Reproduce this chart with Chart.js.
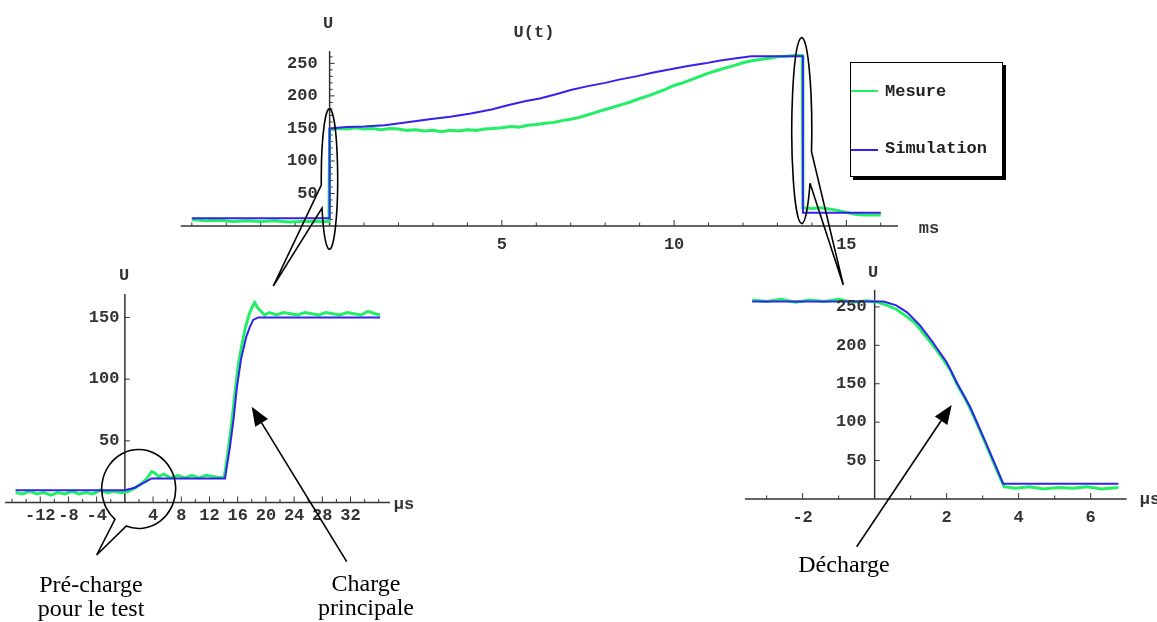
<!DOCTYPE html>
<html><head><meta charset="utf-8">
<script src="https://cdn.jsdelivr.net/npm/chart.js@4.4.1/dist/chart.umd.min.js"></script>
<style>
html,body{margin:0;padding:0;background:#fff;width:1157px;height:622px;overflow:hidden;position:relative;}
.cv{position:absolute;left:0;top:0;}
.mono{position:absolute;font-family:"Liberation Mono","DejaVu Sans Mono",monospace;font-size:17px;font-weight:bold;line-height:17px;color:#333;white-space:nowrap;transform:translate(-50%,-50%);}
.serif{position:absolute;font-family:"Liberation Serif","Times New Roman",serif;font-size:24px;line-height:24px;color:#000;text-align:center;white-space:nowrap;transform:translateX(-50%);}
#legend{position:absolute;left:850px;top:62px;width:151px;height:113px;border:1.5px solid #000;box-shadow:3px 3px 0 #000;background:#fff;}
.lline{position:absolute;left:0;width:27px;height:2px;}
.ltext{position:absolute;left:34px;font-family:"Liberation Mono","DejaVu Sans Mono",monospace;font-size:17px;font-weight:bold;line-height:17px;color:#222;}
svg{position:absolute;left:0;top:0;}
</style></head><body>
<canvas id="c1" class="cv" width="1157" height="622"></canvas>
<canvas id="c2" class="cv" width="1157" height="622"></canvas>
<canvas id="c3" class="cv" width="1157" height="622"></canvas>

<div class="mono" style="left:328px;top:23px">U</div>
<div class="mono" style="left:534px;top:32px">U(t)</div>
<div class="mono" style="left:929px;top:228px">ms</div>
<div class="mono" style="left:124px;top:275px">U</div>
<div class="mono" style="left:404px;top:504px">µs</div>
<div class="mono" style="left:873px;top:272px">U</div>
<div class="mono" style="left:1150px;top:499px">µs</div>

<div id="legend">
  <div class="lline" style="top:27px;background:#22ee66"></div>
  <div class="ltext" style="top:20px">Mesure</div>
  <div class="lline" style="top:86px;background:#3322ee"></div>
  <div class="ltext" style="top:77px">Simulation</div>
</div>

<svg width="1157" height="622" id="ann">
  <g fill="none" stroke="#000" stroke-width="1.6">
    <path d="M322,208 A8.2,70.3 0 1 0 321.3,185 L273.3,286 Z"/>
    <path d="M810,183.3 A10,93 0 1 1 811.5,151.7 L843.3,285 Z"/>
    <path d="M126.1,526.1 A37,39.5 0 1 0 115,519.3 L96.7,555 Z"/>
  </g>
</svg>

<div class="serif" style="left:91px;top:572px">Pré-charge<br>pour le test</div>
<div class="serif" style="left:366px;top:571px">Charge<br>principale</div>
<div class="serif" style="left:844px;top:552px">Décharge</div>

<script>
// ---------- DATA ----------
// Top chart U(t), time in ms
const topSimT = [-4.0, -0.01, 0.0, 0.5, 1.0, 1.6, 2.2, 2.9, 3.5, 4.1, 4.7, 5.2, 5.7, 6.1, 6.6, 7.0, 7.5, 8.0, 8.4, 8.9, 9.4, 9.9, 10.4, 10.9, 11.3, 11.8, 12.25, 13.0, 13.74, 13.74, 16.0];
const topSimV = [12, 12, 150, 152, 153, 155, 159, 164, 168, 173, 179, 186, 192, 196, 203, 209, 215, 220, 225, 230, 236, 241, 246, 250, 254, 258, 261, 261, 261, 20.5, 20.5];
const topMesT = [-4.0, -3.6, -3.2, -2.8, -2.4, -2.0, -1.6, -1.2, -0.8, -0.4, -0.02, 0.0, 0.25, 0.5, 0.75, 1.0, 1.25, 1.5, 1.75, 2.0, 2.25, 2.5, 2.75, 3.0, 3.25, 3.5, 3.75, 4.0, 4.25, 4.5, 4.75, 5.0, 5.25, 5.5, 5.75, 6.0, 6.25, 6.5, 6.75, 7.0, 7.25, 7.5, 7.75, 8.0, 8.25, 8.5, 8.75, 9.0, 9.25, 9.5, 9.75, 10.0, 10.25, 10.5, 10.75, 11.0, 11.25, 11.5, 11.75, 12.0, 12.25, 12.5, 12.75, 13.0, 13.25, 13.5, 13.72, 13.74, 14.0, 14.25, 14.5, 14.75, 15.0, 15.25, 15.5, 16.0];
const topMesV = [10, 8, 9, 7, 8, 7, 8, 6, 7, 7, 7, 148, 150, 149, 151, 149, 150, 148, 150, 149, 147, 148, 146, 147, 145, 147, 146, 148, 147, 149, 150, 151, 153, 152, 155, 156, 158, 159, 162, 164, 167, 171, 175, 179, 183, 187, 191, 196, 200, 205, 210, 216, 220, 225, 230, 235, 239, 243, 247, 251, 254, 256, 258, 260, 261, 262, 262, 28, 27, 28, 26, 24, 21, 18, 17, 17];
const topXLabels = [5, 10, 15];
const topXMinor = [-4, -3, -2, -1, 1, 2, 3, 4, 6, 7, 8, 9, 11, 12, 13, 14, 16];
const topYLabels = [50, 100, 150, 200, 250];
const topYMinor = [10, 20, 30, 40, 60, 70, 80, 90, 110, 120, 130, 140, 160, 170, 180, 190, 210, 220, 230, 240, 260];

// Bottom-left chart (charge), time in µs
const blSimT = [-15.5, 0, 1.4, 3.8, 14.2, 14.9, 15.4, 15.9, 16.5, 17.2, 17.7, 18.2, 18.9, 36.2];
const blSimV = [10, 10, 12, 19.5, 19.5, 45, 67, 94, 117, 134, 142, 148, 150, 150];
const blMesT = [-15.5, -14.5, -13.5, -12.5, -11.5, -10.5, -9.5, -8.5, -7.5, -6.5, -5.5, -4.5, -3.5, -2.5, -1.5, -0.5, 0.5, 1.5, 2.5, 3.2, 3.8, 4.2, 4.8, 5.5, 6.5, 7.5, 8.5, 9.5, 10.5, 11.5, 12.5, 13.5, 14.1, 14.6, 15.1, 15.6, 16.1, 16.6, 17.1, 17.6, 18.0, 18.4, 18.8, 19.3, 19.8, 20.5, 21.5, 22.5, 23.5, 24.5, 25.5, 26.5, 27.5, 28.5, 29.5, 30.5, 31.5, 32.5, 33.5, 34.5, 35.5, 36.2];
const blMesV = [8, 7, 9, 7, 8, 6, 8, 7, 9, 7, 8, 7, 10, 8, 9, 8, 9, 12, 16, 20, 25, 24, 21, 23, 20, 22, 20, 22, 20, 22, 21, 20, 21, 40, 62, 88, 112, 128, 142, 152, 158, 162, 158, 155, 152, 154, 152, 154, 153, 152, 154, 153, 152, 154, 153, 152, 154, 153, 152, 155, 153, 152];
const blXLabels = [-12, -8, -4, 4, 8, 12, 16, 20, 24, 28, 32];
const blXMinor = [-16, -14, -10, -6, -2, 2, 6, 10, 14, 18, 22, 26, 30, 34, 36];
const blYLabels = [50, 100, 150];
const blYMinor = [];

// Bottom-right chart (décharge), time in µs
const brSimT = [-3.4, 0.25, 0.6, 0.9, 1.26, 1.6, 2.0, 2.3, 2.65, 3.1, 3.57, 6.77];
const brSimV = [257, 257, 252, 243, 226, 205, 178, 150, 120, 72, 20, 20];
const brMesT = [-3.4, -3.0, -2.6, -2.2, -1.8, -1.4, -1.0, -0.6, -0.2, 0.1, 0.35, 0.6, 0.9, 1.1, 1.3, 1.5, 1.7, 1.9, 2.1, 2.3, 2.5, 2.7, 2.9, 3.1, 3.3, 3.5, 3.6, 3.9, 4.3, 4.7, 5.1, 5.5, 5.9, 6.3, 6.77];
const brMesV = [259, 257, 260, 256, 259, 257, 260, 256, 258, 256, 252, 247, 237, 230, 219, 207, 195, 182, 168, 148, 132, 113, 92, 70, 48, 26, 16, 14, 16, 13, 15, 14, 16, 13, 15];
const brXLabels = [-2, 2, 4, 6];
const brXMinor = [-3, -1, 1, 3, 5];
const brYLabels = [50, 100, 150, 200, 250];
const brYMinor = [];

// ---------- DRAWING ----------
const GREEN = '#22ee66', BLUE = '#3322ee';
const pts = (T, V) => T.map((t, i) => ({x: t, y: V[i]}));

function mmaAxes(cfg) {
  return {
    id: 'mmaAxes',
    beforeDatasetsDraw(chart) {
      const {ctx, chartArea: a, scales: {x, y}} = chart;
      const x0 = x.getPixelForValue(0), y0 = y.getPixelForValue(0);
      ctx.save();
      ctx.strokeStyle = '#333';
      ctx.lineWidth = 1.5;
      ctx.beginPath();
      ctx.moveTo(a.left, y0); ctx.lineTo(a.right, y0);
      ctx.moveTo(x0, a.top); ctx.lineTo(x0, a.bottom);
      ctx.stroke();
      ctx.lineWidth = 1;
      ctx.beginPath();
      cfg.xMinor.forEach(v => { const p = x.getPixelForValue(v); ctx.moveTo(p, y0); ctx.lineTo(p, y0 - 3.5); });
      cfg.xLabels.forEach(v => { const p = x.getPixelForValue(v); ctx.moveTo(p, y0); ctx.lineTo(p, y0 - 6); });
      cfg.yMinor.forEach(v => { const p = y.getPixelForValue(v); ctx.moveTo(x0, p); ctx.lineTo(x0 + 3, p); });
      cfg.yLabels.forEach(v => { const p = y.getPixelForValue(v); ctx.moveTo(x0, p); ctx.lineTo(x0 + 5, p); });
      ctx.stroke();
      ctx.restore();
    },
    afterDatasetsDraw(chart) {
      const {ctx, scales: {x, y}} = chart;
      const x0 = x.getPixelForValue(0), y0 = y.getPixelForValue(0);
      ctx.save();
      ctx.font = 'bold 17px "Liberation Mono", monospace';
      ctx.fillStyle = '#333';
      ctx.textBaseline = 'middle';
      ctx.textAlign = 'center';
      cfg.xLabels.forEach(v => ctx.fillText(String(v), x.getPixelForValue(v), y0 + cfg.xOff));
      ctx.textAlign = 'right';
      cfg.yLabels.forEach(v => ctx.fillText(String(v), x0 - cfg.yGap, y.getPixelForValue(v)));
      ctx.restore();
    }
  };
}

function makeChart(id, sim, mes, xr, yr, pad, axcfg) {
  new Chart(document.getElementById(id), {
    type: 'line',
    data: {
      datasets: [
        {label: 'Simulation', data: sim, borderColor: BLUE, borderWidth: 2, pointRadius: 0, tension: 0},
        {label: 'Mesure', data: mes, borderColor: GREEN, borderWidth: 3, pointRadius: 0, tension: 0}
      ]
    },
    options: {
      responsive: false, animation: false, events: [],
      layout: {padding: pad},
      plugins: {legend: {display: false}, tooltip: {enabled: false}},
      scales: {
        x: {type: 'linear', min: xr[0], max: xr[1], display: false},
        y: {type: 'linear', min: yr[0], max: yr[1], display: false}
      }
    },
    plugins: [mmaAxes(axcfg)]
  });
}

makeChart('c1', pts(topSimT, topSimV), pts(topMesT, topMesV), [-4.32, 16.5], [0, 269],
  {left: 180.8, right: 1157 - 898, top: 51, bottom: 622 - 226},
  {xLabels: topXLabels, xMinor: topXMinor, yLabels: topYLabels, yMinor: topYMinor, xOff: 19, yGap: 12});

makeChart('c2', pts(blSimT, blSimV), pts(blMesT, blMesV), [-17, 37.6], [0, 169],
  {left: 5, right: 1157 - 390, top: 294, bottom: 622 - 502.5},
  {xLabels: blXLabels, xMinor: blXMinor, yLabels: blYLabels, yMinor: blYMinor, xOff: 13.5, yGap: 5.5});

makeChart('c3', pts(brSimT, brSimV), pts(brMesT, brMesV), [-3.6, 7.0], [0, 272],
  {left: 745, right: 1157 - 1126.7, top: 290, bottom: 622 - 499},
  {xLabels: brXLabels, xMinor: brXMinor, yLabels: brYLabels, yMinor: brYMinor, xOff: 18.4, yGap: 8});

// ---------- ANNOTATION ARROWS ----------
function arrow(sx, sy, tx, ty, len, half) {
  const dx = tx - sx, dy = ty - sy, L = Math.hypot(dx, dy);
  const ux = dx / L, uy = dy / L, px = -uy, py = ux;
  const bx = tx - ux * len, by = ty - uy * len;
  const ns = 'http://www.w3.org/2000/svg', svg = document.getElementById('ann');
  const line = document.createElementNS(ns, 'line');
  line.setAttribute('x1', sx); line.setAttribute('y1', sy);
  line.setAttribute('x2', bx); line.setAttribute('y2', by);
  line.setAttribute('stroke', '#000'); line.setAttribute('stroke-width', '1.6');
  svg.appendChild(line);
  const poly = document.createElementNS(ns, 'polygon');
  poly.setAttribute('points', `${tx},${ty} ${bx + px * half},${by + py * half} ${bx - px * half},${by - py * half}`);
  poly.setAttribute('fill', '#000');
  svg.appendChild(poly);
}
arrow(346.7, 561.7, 251.7, 406.7, 19, 7.5);
arrow(856.7, 546.7, 951.7, 405, 19, 7.5);
</script>
</body></html>
